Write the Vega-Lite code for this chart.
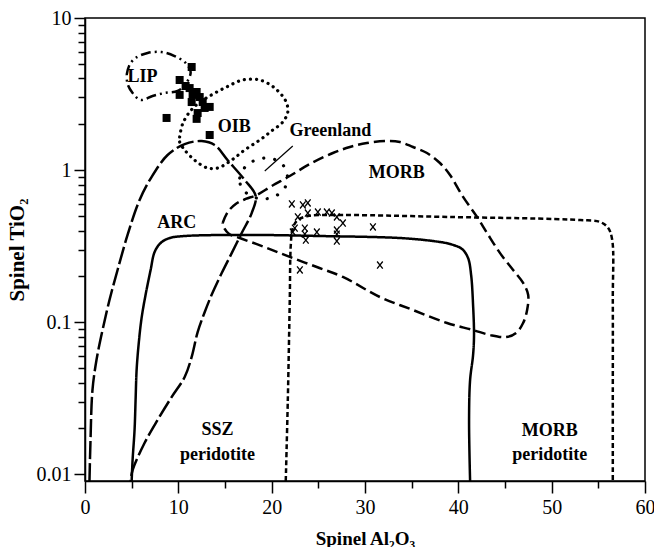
{
  "$schema": "https://vega.github.io/schema/vega-lite/v6.json",
  "width": 560,
  "height": 463,
  "autosize": {"type": "none"},
  "padding": {"left": 85, "top": 18, "right": 9, "bottom": 66},
  "background": "white",
  "config": {
    "view": {"stroke": "black", "strokeWidth": 1.5},
    "axis": {"grid": false, "domainColor": "black", "domainWidth": 1.5, "tickColor": "black", "tickWidth": 1.5, "labelColor": "black", "titleColor": "black", "labelFont": "Liberation Serif", "titleFont": "Liberation Serif", "labelFontSize": 20, "titleFontSize": 19, "titleFontWeight": "bold", "labelFlush": false, "labelOverlap": false}
  },
  "resolve": {"scale": {"strokeDash": "independent"}},
  "encoding": {
    "x": {"field": "x", "type": "quantitative",
      "scale": {"domain": [0, 60], "nice": false, "zero": false},
      "axis": {"title": "Spinel Al₂O₃", "values": [0,5,10,15,20,25,30,35,40,45,50,55,60],
        "labelExpr": "datum.value % 10 == 0 ? datum.label : ''",
        "tickSize": {"condition": {"test": "datum.value % 10 == 0", "value": 12}, "value": 7},
        "labelPadding": 4, "titlePadding": 12}},
    "y": {"field": "y", "type": "quantitative",
      "scale": {"type": "log", "domain": [0.009, 10], "nice": false},
      "axis": {"title": "Spinel TiO₂", "titleFontSize": 21, "values": [0.01,0.02,0.03,0.04,0.05,0.06,0.07,0.08,0.09,0.1,0.2,0.3,0.4,0.5,0.6,0.7,0.8,0.9,1,2,3,4,5,6,7,8,9,10],
        "labelExpr": "datum.value == 0.01 ? '0.01' : datum.value == 0.1 ? '0.1' : datum.value == 1 ? '1' : datum.value == 10 ? '10' : ''",
        "tickSize": {"condition": {"test": "datum.value == 0.01 || datum.value == 0.1 || datum.value == 1 || datum.value == 10", "value": 11}, "value": 7},
        "labelPadding": 3, "titlePadding": 9}}
  },
  "layer": [
    {
      "data": {"values": [
        {"c":"ARC","o":1,"x":0.48,"y":0.009},{"c":"ARC","o":2,"x":0.59,"y":0.0167},{"c":"ARC","o":3,"x":0.80,"y":0.0357},{"c":"ARC","o":4,"x":1.23,"y":0.0562},{"c":"ARC","o":5,"x":1.88,"y":0.0886},{"c":"ARC","o":6,"x":2.63,"y":0.140},{"c":"ARC","o":7,"x":3.49,"y":0.220},{"c":"ARC","o":8,"x":4.56,"y":0.374},{"c":"ARC","o":9,"x":5.85,"y":0.635},{"c":"ARC","o":10,"x":7.13,"y":0.899},{"c":"ARC","o":11,"x":8.85,"y":1.255},{"c":"ARC","o":12,"x":10.68,"y":1.48},{"c":"ARC","o":13,"x":12.50,"y":1.55},{"c":"ARC","o":14,"x":13.89,"y":1.46},{"c":"ARC","o":15,"x":15.29,"y":1.16},{"c":"ARC","o":16,"x":17.11,"y":0.86},{"c":"ARC","o":17,"x":18.29,"y":0.675},{"c":"ARC","o":18,"x":17.86,"y":0.521},{"c":"ARC","o":19,"x":16.79,"y":0.385},{"c":"ARC","o":20,"x":15.72,"y":0.284},{"c":"ARC","o":21,"x":14.65,"y":0.210},{"c":"ARC","o":22,"x":13.57,"y":0.151},{"c":"ARC","o":23,"x":12.82,"y":0.116},{"c":"ARC","o":24,"x":12.07,"y":0.0859},{"c":"ARC","o":25,"x":11.43,"y":0.0589},{"c":"ARC","o":26,"x":10.68,"y":0.0435},{"c":"ARC","o":27,"x":9.28,"y":0.0321},{"c":"ARC","o":28,"x":7.78,"y":0.0227},{"c":"ARC","o":29,"x":6.38,"y":0.0160},{"c":"ARC","o":30,"x":5.10,"y":0.0106},{"c":"ARC","o":31,"x":4.88,"y":0.009},
        {"c":"SSZ","o":1,"x":5.0,"y":0.009},{"c":"SSZ","o":2,"x":5.10,"y":0.0124},{"c":"SSZ","o":3,"x":5.31,"y":0.0195},{"c":"SSZ","o":4,"x":5.42,"y":0.0307},{"c":"SSZ","o":5,"x":5.53,"y":0.0483},{"c":"SSZ","o":6,"x":5.74,"y":0.0706},{"c":"SSZ","o":7,"x":6.06,"y":0.106},{"c":"SSZ","o":8,"x":6.49,"y":0.151},{"c":"SSZ","o":9,"x":7.03,"y":0.220},{"c":"SSZ","o":10,"x":7.46,"y":0.289},{"c":"SSZ","o":11,"x":8.10,"y":0.331},{"c":"SSZ","o":12,"x":9.07,"y":0.357},{"c":"SSZ","o":13,"x":10.68,"y":0.368},{"c":"SSZ","o":14,"x":17.65,"y":0.374},{"c":"SSZ","o":15,"x":25.16,"y":0.368},{"c":"SSZ","o":16,"x":33.74,"y":0.357},{"c":"SSZ","o":17,"x":37.29,"y":0.341},{"c":"SSZ","o":18,"x":39.11,"y":0.326},{"c":"SSZ","o":19,"x":40.40,"y":0.302},{"c":"SSZ","o":20,"x":41.04,"y":0.264},{"c":"SSZ","o":21,"x":41.37,"y":0.204},{"c":"SSZ","o":22,"x":41.58,"y":0.129},{"c":"SSZ","o":23,"x":41.68,"y":0.082},{"c":"SSZ","o":24,"x":41.58,"y":0.0607},{"c":"SSZ","o":25,"x":41.26,"y":0.0415},{"c":"SSZ","o":26,"x":41.15,"y":0.0227},{"c":"SSZ","o":27,"x":41.26,"y":0.009},
        {"c":"MORBper","o":1,"x":21.51,"y":0.009},{"c":"MORBper","o":2,"x":21.73,"y":0.0307},{"c":"MORBper","o":3,"x":21.94,"y":0.140},{"c":"MORBper","o":4,"x":22.05,"y":0.321},{"c":"MORBper","o":5,"x":22.26,"y":0.415},{"c":"MORBper","o":6,"x":22.80,"y":0.469},{"c":"MORBper","o":7,"x":23.87,"y":0.498},{"c":"MORBper","o":8,"x":26.56,"y":0.506},{"c":"MORBper","o":9,"x":39.11,"y":0.491},{"c":"MORBper","o":10,"x":53.06,"y":0.469},{"c":"MORBper","o":11,"x":55.20,"y":0.455},{"c":"MORBper","o":12,"x":56.06,"y":0.415},{"c":"MORBper","o":13,"x":56.49,"y":0.346},{"c":"MORBper","o":14,"x":56.55,"y":0.140},{"c":"MORBper","o":15,"x":56.55,"y":0.0307},{"c":"MORBper","o":16,"x":56.55,"y":0.009},
        {"c":"MORB","o":1,"x":14.75,"y":0.448},{"c":"MORB","o":2,"x":15.29,"y":0.529},{"c":"MORB","o":3,"x":16.15,"y":0.598},{"c":"MORB","o":4,"x":17.22,"y":0.645},{"c":"MORB","o":5,"x":18.40,"y":0.685},{"c":"MORB","o":6,"x":20.01,"y":0.785},{"c":"MORB","o":7,"x":21.94,"y":0.913},{"c":"MORB","o":8,"x":24.09,"y":1.095},{"c":"MORB","o":9,"x":26.56,"y":1.294},{"c":"MORB","o":10,"x":28.38,"y":1.417},{"c":"MORB","o":11,"x":30.20,"y":1.505},{"c":"MORB","o":12,"x":32.35,"y":1.552},{"c":"MORB","o":13,"x":33.74,"y":1.528},{"c":"MORB","o":14,"x":35.14,"y":1.417},{"c":"MORB","o":15,"x":36.64,"y":1.294},{"c":"MORB","o":16,"x":38.03,"y":1.112},{"c":"MORB","o":17,"x":39.11,"y":0.927},{"c":"MORB","o":18,"x":40.51,"y":0.665},{"c":"MORB","o":19,"x":42.01,"y":0.491},{"c":"MORB","o":20,"x":43.08,"y":0.385},{"c":"MORB","o":21,"x":44.47,"y":0.284},{"c":"MORB","o":22,"x":45.87,"y":0.220},{"c":"MORB","o":23,"x":46.94,"y":0.181},{"c":"MORB","o":24,"x":47.48,"y":0.151},{"c":"MORB","o":25,"x":47.37,"y":0.120},{"c":"MORB","o":26,"x":46.94,"y":0.0985},{"c":"MORB","o":27,"x":46.19,"y":0.0847},{"c":"MORB","o":28,"x":45.12,"y":0.0796},{"c":"MORB","o":29,"x":43.40,"y":0.0821},{"c":"MORB","o":30,"x":41.58,"y":0.0886},{"c":"MORB","o":31,"x":38.79,"y":0.0985},{"c":"MORB","o":32,"x":35.14,"y":0.120},{"c":"MORB","o":33,"x":31.60,"y":0.146},{"c":"MORB","o":34,"x":27.63,"y":0.198},{"c":"MORB","o":35,"x":24.84,"y":0.230},{"c":"MORB","o":36,"x":21.94,"y":0.268},{"c":"MORB","o":37,"x":19.26,"y":0.311},{"c":"MORB","o":38,"x":16.58,"y":0.357},{"c":"MORB","o":39,"x":15.45,"y":0.379},{"c":"MORB","o":40,"x":14.91,"y":0.415},{"c":"MORB","o":41,"x":14.75,"y":0.448},
        {"c":"LIP","o":1,"x":4.46,"y":4.22},{"c":"LIP","o":2,"x":4.77,"y":4.91},{"c":"LIP","o":3,"x":5.42,"y":5.46},{"c":"LIP","o":4,"x":6.71,"y":5.89},{"c":"LIP","o":5,"x":8.21,"y":5.97},{"c":"LIP","o":6,"x":9.60,"y":5.62},{"c":"LIP","o":7,"x":10.78,"y":5.06},{"c":"LIP","o":8,"x":11.32,"y":4.41},{"c":"LIP","o":9,"x":10.78,"y":3.68},{"c":"LIP","o":10,"x":9.92,"y":3.31},{"c":"LIP","o":11,"x":8.53,"y":3.21},{"c":"LIP","o":12,"x":7.24,"y":3.07},{"c":"LIP","o":13,"x":5.95,"y":2.89},{"c":"LIP","o":14,"x":5.10,"y":3.21},{"c":"LIP","o":15,"x":4.56,"y":3.68},{"c":"LIP","o":16,"x":4.46,"y":4.22}
      ]},
      "mark": {"type": "line", "interpolate": "catmull-rom", "strokeWidth": 2.5, "color": "black"},
      "encoding": {
        "order": {"field": "o", "type": "quantitative"},
        "strokeDash": {"field": "c", "type": "nominal", "legend": null,
          "scale": {"domain": ["ARC","SSZ","MORBper","MORB","LIP"], "range": [[18,4],[1,0],[5,3],[11,5],[10,4,2,4,2,4]]}}
      }
    },
    {
      "data": {"values": [
        {"c":"OIB","o":1,"x":10.14,"y":1.649},{"c":"OIB","o":2,"x":10.46,"y":2.01},{"c":"OIB","o":3,"x":11.21,"y":2.41},{"c":"OIB","o":4,"x":12.07,"y":2.72},{"c":"OIB","o":5,"x":13.36,"y":3.07},{"c":"OIB","o":6,"x":15.18,"y":3.52},{"c":"OIB","o":7,"x":16.90,"y":3.91},{"c":"OIB","o":8,"x":18.72,"y":3.91},{"c":"OIB","o":9,"x":20.33,"y":3.46},{"c":"OIB","o":10,"x":21.51,"y":2.84},{"c":"OIB","o":11,"x":21.73,"y":2.41},{"c":"OIB","o":12,"x":21.19,"y":2.07},{"c":"OIB","o":13,"x":20.01,"y":1.81},{"c":"OIB","o":14,"x":18.72,"y":1.575},{"c":"OIB","o":15,"x":17.11,"y":1.354},{"c":"OIB","o":16,"x":15.72,"y":1.163},{"c":"OIB","o":17,"x":14.22,"y":1.03},{"c":"OIB","o":18,"x":13.14,"y":1.03},{"c":"OIB","o":19,"x":11.86,"y":1.146},{"c":"OIB","o":20,"x":10.68,"y":1.354},{"c":"OIB","o":21,"x":10.14,"y":1.53},{"c":"OIB","o":22,"x":10.14,"y":1.649},
        {"c":"Greenland","o":1,"x":16.58,"y":0.886},{"c":"Greenland","o":2,"x":17.22,"y":1.06},{"c":"Greenland","o":3,"x":18.29,"y":1.163},{"c":"Greenland","o":4,"x":19.58,"y":1.2},{"c":"Greenland","o":5,"x":20.87,"y":1.128},{"c":"Greenland","o":6,"x":21.62,"y":0.97},{"c":"Greenland","o":7,"x":21.51,"y":0.785},{"c":"Greenland","o":8,"x":20.44,"y":0.675},{"c":"Greenland","o":9,"x":18.94,"y":0.645},{"c":"Greenland","o":10,"x":17.44,"y":0.695},{"c":"Greenland","o":11,"x":16.69,"y":0.785},{"c":"Greenland","o":12,"x":16.58,"y":0.886}
      ]},
      "mark": {"type": "line", "interpolate": "catmull-rom", "strokeWidth": 3.2, "strokeCap": "round", "color": "black"},
      "encoding": {
        "order": {"field": "o", "type": "quantitative"},
        "strokeDash": {"field": "c", "type": "nominal", "legend": null,
          "scale": {"domain": ["OIB","Greenland"], "range": [[0.1,6],[0.1,11]]}}
      }
    },
    {
      "data": {"values": [{"x": 22.26, "y": 1.44, "x2": 19.26, "y2": 0.985}]},
      "mark": {"type": "rule", "color": "black", "strokeWidth": 1.2},
      "encoding": {"x2": {"field": "x2"}, "y2": {"field": "y2"}}
    },
    {
      "data": {"values": [
        {"x":11.43,"y":4.76},{"x":10.14,"y":3.91},{"x":10.78,"y":3.57},{"x":11.21,"y":3.46},{"x":10.14,"y":3.12},{"x":11.53,"y":3.12},{"x":11.96,"y":3.26},{"x":12.29,"y":3.02},{"x":11.43,"y":2.80},{"x":12.61,"y":2.80},{"x":12.82,"y":2.56},{"x":13.36,"y":2.60},{"x":12.07,"y":2.37},{"x":11.96,"y":2.17},{"x":8.74,"y":2.20},{"x":13.36,"y":1.70}
      ]},
      "mark": {"type": "point", "shape": "square", "filled": true, "color": "black", "size": 64, "opacity": 1}
    },
    {
      "data": {"values": [
        {"x":22.16,"y":0.598},{"x":23.34,"y":0.589},{"x":23.87,"y":0.607},{"x":23.87,"y":0.521},{"x":22.80,"y":0.491},{"x":24.95,"y":0.529},{"x":25.91,"y":0.529},{"x":26.45,"y":0.521},{"x":26.98,"y":0.491},{"x":27.63,"y":0.448},{"x":30.85,"y":0.422},{"x":22.48,"y":0.415},{"x":22.26,"y":0.391},{"x":23.55,"y":0.415},{"x":24.84,"y":0.391},{"x":26.98,"y":0.403},{"x":26.98,"y":0.379},{"x":23.55,"y":0.379},{"x":23.66,"y":0.346},{"x":26.98,"y":0.341},{"x":23.02,"y":0.220},{"x":31.60,"y":0.237}
      ]},
      "mark": {"type": "point", "shape": "M-0.8,-1L0.8,1M-0.8,1L0.8,-1", "filled": false, "color": "black", "size": 50, "strokeWidth": 1.3, "opacity": 1}
    },
    {
      "data": {"values": [
        {"x":6.17,"y":4.09,"t":"LIP"},{"x":16.0,"y":1.92,"t":"OIB"},{"x":26.3,"y":1.81,"t":"Greenland"},{"x":33.4,"y":0.955,"t":"MORB"},{"x":9.84,"y":0.448,"t":"ARC"},{"x":14.2,"y":0.0195,"t":"SSZ"},{"x":14.2,"y":0.0133,"t":"peridotite"},{"x":49.8,"y":0.0192,"t":"MORB"},{"x":49.8,"y":0.0133,"t":"peridotite"}
      ]},
      "mark": {"type": "text", "font": "Liberation Serif", "fontWeight": "bold", "fontSize": 18, "color": "black", "align": "center", "baseline": "middle"},
      "encoding": {"text": {"field": "t"}}
    }
  ]
}
